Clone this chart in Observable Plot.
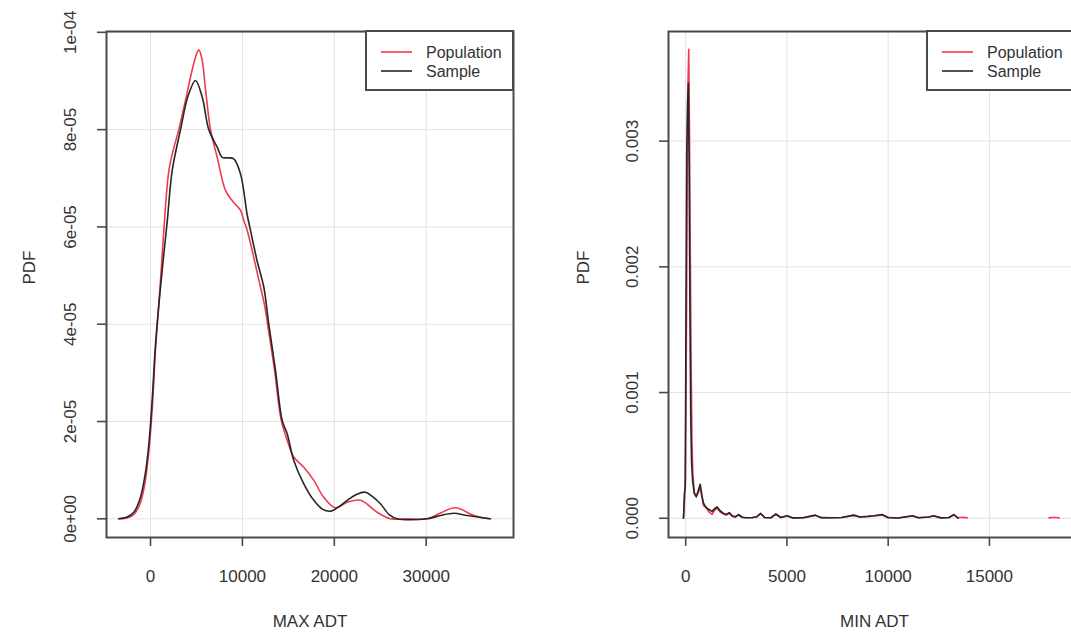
<!DOCTYPE html>
<html>
<head>
<meta charset="utf-8">
<script src="https://cdn.jsdelivr.net/npm/d3@7"></script>
<script src="https://cdn.jsdelivr.net/npm/@observablehq/plot@0.6"></script>
<style>
  html, body { margin: 0; padding: 0; background: #fff; overflow: hidden; }
  #wrap { position: relative; width: 1071px; height: 642px; overflow: hidden; background: #fff; }
  .panel { position: absolute; top: 0; }
  .legend { position: absolute; top: 0; left: 0; pointer-events: none; }
</style>
</head>
<body>
<div id="wrap"></div>
<script>
// ---------------- DATA ----------------
const seriesNames = ["Population", "Sample"];

// Left panel: MAX ADT density (y in units of 1e-5)
const maxPopX = [-3450, -2500, -1800, -1100, -550, -150, 200, 550, 1088, 1450, 2000, 2500, 3080, 3800, 4500, 5000, 5260, 5600, 6000, 6530, 7260, 8160, 8890, 9800, 10150, 10520, 11200, 11800, 12400, 12900, 13500, 14200, 14900, 15590, 16680, 17770, 18860, 20130, 21400, 22850, 24660, 26110, 28000, 30100, 31550, 33180, 35180, 36810];
const maxPopY = [0, 0.02, 0.09, 0.33, 0.8, 1.45, 2.3, 3.5, 4.9, 5.93, 7.16, 7.6, 8.0, 8.6, 9.2, 9.55, 9.64, 9.45, 8.8, 8.0, 7.43, 6.75, 6.54, 6.34, 6.13, 5.93, 5.4, 4.9, 4.4, 3.8, 3.05, 2.05, 1.6, 1.27, 1.06, 0.79, 0.44, 0.226, 0.34, 0.38, 0.136, 0, 0, 0, 0.12, 0.226, 0.07, 0];

const maxSampleX = [-3450, -2600, -1800, -1100, -550, -150, 200, 550, 1088, 1450, 1813, 2360, 3264, 4100, 4896, 5625, 6343, 7257, 7800, 8400, 9063, 9792, 10520, 10880, 11600, 12330, 12870, 13600, 14330, 14870, 15590, 16680, 17770, 18700, 19580, 20500, 21400, 22400, 23390, 24200, 25020, 26000, 26840, 30100, 31550, 33000, 34460, 36990];
const maxSampleY = [0, 0.03, 0.14, 0.44, 0.95, 1.6, 2.5, 3.6, 4.76, 5.45, 6.1, 7.16, 8.0, 8.7, 9.01, 8.67, 8.0, 7.64, 7.43, 7.42, 7.4, 7.09, 6.25, 5.93, 5.3, 4.76, 4.0, 3.05, 2.02, 1.75, 1.2, 0.72, 0.38, 0.2, 0.156, 0.25, 0.38, 0.5, 0.547, 0.45, 0.31, 0.08, 0, 0, 0.068, 0.115, 0.068, 0];

// Right panel: MIN ADT density (y in units of 1e-3); null = no visible trace
const minPopX = [-110, -60, -20, 10, 40, 80, 120, 150, 190, 230, 270, 310, 350, 430, 520, 620, 716, 800, 880, 1000, 1150, 1300, 1450, 1550, 1700, 1850, 2000, 2150, 2300, 2450, 2600, 2800, 3000, 3300, 3500, 3700, 3900, 4200, 4450, 4700, 5000, 5300, 5800, 6400, 6700, 7200, 7700, 8300, 8600, 9000, 9300, 9700, 10000, 10500, 11200, 11500, 12000, 12250, 12600, 13000, 13250, 13450, 13700, 13900, 14000, 17950, 18050, 18300, 18450];
const minPopY = [0, 0.15, 0.3, 0.9, 1.6, 2.9, 3.5, 3.73, 3.0, 2.05, 1.2, 0.6, 0.35, 0.2, 0.18, 0.2, 0.25, 0.17, 0.1, 0.09, 0.05, 0.03, 0.07, 0.08, 0.05, 0.035, 0.025, 0.04, 0.015, 0.012, 0.025, 0.006, 0.004, 0.005, 0.012, 0.035, 0.005, 0.004, 0.03, 0.006, 0.018, 0.003, 0.004, 0.022, 0.004, 0.004, 0.006, 0.022, 0.012, 0.014, 0.018, 0.025, 0.005, 0.002, 0.018, 0.004, 0.01, 0.018, 0.003, 0.006, 0.025, 0.004, 0.008, 0.003, null, 0.003, 0.006, 0.006, 0.002];

const minSampleX = [-110, -60, -20, 10, 50, 90, 130, 170, 210, 250, 290, 340, 420, 520, 620, 716, 800, 880, 1000, 1150, 1300, 1450, 1550, 1700, 1850, 2000, 2150, 2300, 2450, 2600, 2800, 3000, 3300, 3500, 3700, 3900, 4200, 4450, 4700, 5000, 5300, 5800, 6400, 6700, 7200, 7700, 8300, 8600, 9000, 9300, 9700, 10000, 10500, 11200, 11500, 12000, 12250, 12600, 13000, 13250, 13450];
const minSampleY = [0, 0.2, 0.25, 1.5, 2.9, 3.3, 3.46, 2.8, 1.6, 0.8, 0.45, 0.3, 0.2, 0.17, 0.22, 0.27, 0.18, 0.12, 0.085, 0.07, 0.055, 0.08, 0.09, 0.06, 0.04, 0.03, 0.045, 0.02, 0.01, 0.03, 0.008, 0.004, 0.006, 0.01, 0.04, 0.006, 0.004, 0.035, 0.006, 0.02, 0.003, 0.004, 0.025, 0.005, 0.004, 0.006, 0.025, 0.01, 0.015, 0.02, 0.03, 0.006, 0.002, 0.02, 0.004, 0.01, 0.02, 0.003, 0.006, 0.03, 0];

// Axis ticks and labels
const maxXTicks = [0, 10000, 20000, 30000];
const maxYTicks = [0, 2e-5, 4e-5, 6e-5, 8e-5, 1e-4];
const maxYTickLabels = ["0e+00", "2e-05", "4e-05", "6e-05", "8e-05", "1e-04"];
const minXTicks = [0, 5000, 10000, 15000];
const minYTicks = [0, 0.001, 0.002, 0.003];
const minYTickLabels = ["0.000", "0.001", "0.002", "0.003"];
const xTitles = ["MAX ADT", "MIN ADT"];
const yTitle = "PDF";

// ---------------- STYLE ----------------
const RED = "#f0394d";
const BLACK = "#262626";
const FRAME = "#4a4a4a";
const GRID = "#e2e2e2";
const FONT = "'Liberation Sans', Arial, Helvetica, sans-serif";
const FS = 17;

function toRows(xs, ys, unit) { return xs.map((x, i) => ({x, y: ys[i] == null ? NaN : ys[i] * unit})); }

function panel(o) {
  const pop = toRows(o.popX, o.popY, o.unit);
  const sam = toRows(o.samX, o.samY, o.unit);
  return Plot.plot({
    width: o.width, height: 642,
    marginTop: 31, marginBottom: 105, marginLeft: o.ml, marginRight: o.mr,
    style: {fontFamily: FONT, background: "transparent", color: "#333", fontSize: FS + "px", overflow: "visible"},
    x: {domain: o.xDomain},
    y: {domain: o.yDomain},
    marks: [
      Plot.gridX(o.xTicks, {stroke: GRID, strokeOpacity: 1, strokeWidth: 1}),
      Plot.gridY(o.yTicks, {stroke: GRID, strokeOpacity: 1, strokeWidth: 1}),
      Plot.line(pop, {x: "x", y: "y", stroke: RED, strokeWidth: 1.6, curve: o.curve}),
      Plot.line(sam, {x: "x", y: "y", stroke: BLACK, strokeWidth: 1.6, curve: o.curve}),
      Plot.frame({stroke: FRAME, strokeWidth: 2}),
      Plot.axisX(o.xTicks, {tickSize: 9, tickPadding: 23, fontSize: FS, label: null, stroke: FRAME, strokeWidth: 1.6, tickFormat: d => String(d)}),
      Plot.axisY(o.yTicks, {tickSize: 9, tickPadding: 22, fontSize: FS, tickRotate: -90, label: null, stroke: FRAME, strokeWidth: 1.6, tickFormat: d => o.yLabels[o.yTicks.indexOf(d)]}),
      Plot.text([o.xTitle], {frameAnchor: "bottom", dy: 89, fontSize: FS, fill: "#333"}),
      Plot.text([yTitle], {frameAnchor: "left", dx: o.pdfDx, rotate: -90, fontSize: FS, fill: "#333"})
    ]
  });
}

function legend(x0, x1, y0, y1) {
  const ns = "http://www.w3.org/2000/svg";
  const svg = document.createElementNS(ns, "svg");
  svg.setAttribute("width", 1071); svg.setAttribute("height", 642);
  svg.setAttribute("class", "legend");
  const rect = document.createElementNS(ns, "rect");
  rect.setAttribute("x", x0); rect.setAttribute("y", y0);
  rect.setAttribute("width", x1 - x0); rect.setAttribute("height", y1 - y0);
  rect.setAttribute("fill", "#fff"); rect.setAttribute("stroke", FRAME); rect.setAttribute("stroke-width", 2);
  svg.appendChild(rect);
  const colors = [RED, BLACK];
  seriesNames.forEach((name, i) => {
    const yy = y0 + 21 + i * 19;
    const ln = document.createElementNS(ns, "line");
    ln.setAttribute("x1", x0 + 15); ln.setAttribute("x2", x0 + 46);
    ln.setAttribute("y1", yy); ln.setAttribute("y2", yy);
    ln.setAttribute("stroke", colors[i]); ln.setAttribute("stroke-width", 1.6);
    svg.appendChild(ln);
    const t = document.createElementNS(ns, "text");
    t.setAttribute("x", x0 + 60); t.setAttribute("y", yy);
    t.setAttribute("dominant-baseline", "central");
    t.setAttribute("font-family", FONT); t.setAttribute("font-size", 16);
    t.setAttribute("fill", "#333");
    t.textContent = name;
    svg.appendChild(t);
  });
  return svg;
}

const wrap = document.getElementById("wrap");

const left = panel({
  width: 540, ml: 106, mr: 27, xDomain: [-4790, 39500], yDomain: [-3.84e-6, 1.0017e-4],
  popX: maxPopX, popY: maxPopY, samX: maxSampleX, samY: maxSampleY, unit: 1e-5,
  xTicks: maxXTicks, yTicks: maxYTicks, yLabels: maxYTickLabels, xTitle: xTitles[0], pdfDx: -77, curve: "catmull-rom"
});
left.classList.add("panel"); left.style.left = "0px";
wrap.appendChild(left);

const right = panel({
  width: 560, ml: 128, mr: 20, xDomain: [-850, 19500], yDomain: [-0.000153, 0.003872],
  popX: minPopX, popY: minPopY, samX: minSampleX, samY: minSampleY, unit: 1e-3,
  xTicks: minXTicks, yTicks: minYTicks, yLabels: minYTickLabels, xTitle: xTitles[1], pdfDx: -85, curve: "linear"
});
right.classList.add("panel"); right.style.left = "540px";
wrap.appendChild(right);

wrap.appendChild(legend(366, 513, 31, 90));
wrap.appendChild(legend(927, 1080, 31, 90));
</script>
</body>
</html>
